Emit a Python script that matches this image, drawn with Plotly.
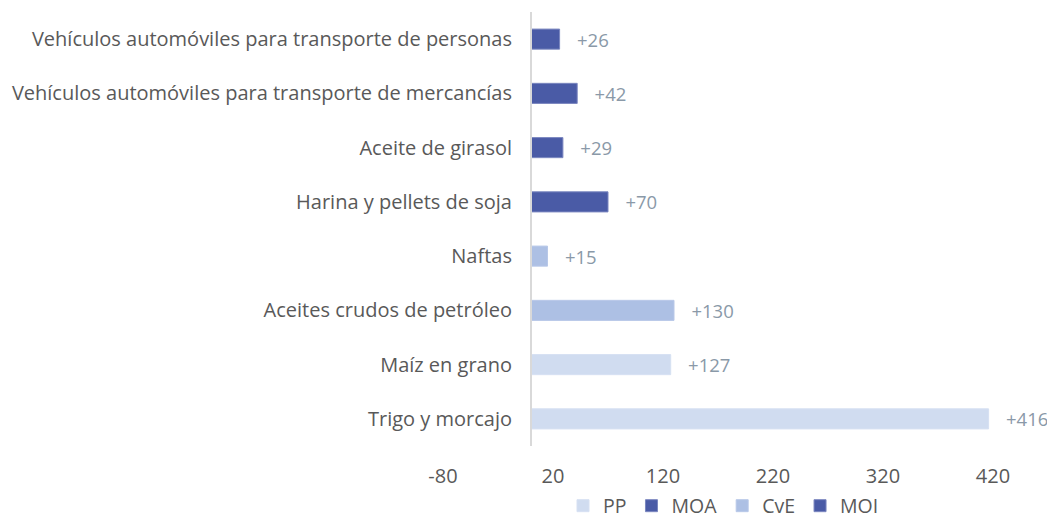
import plotly.graph_objects as go

categories = [
    "Vehículos automóviles para transporte de personas",
    "Vehículos automóviles para transporte de mercancías",
    "Aceite de girasol",
    "Harina y pellets de soja",
    "Naftas",
    "Aceites crudos de petróleo",
    "Maíz en grano",
    "Trigo y morcajo",
]
values = [26, 42, 29, 70, 15, 130, 127, 416]
groups = ["MOI", "MOI", "MOA", "MOA", "CvE", "CvE", "PP", "PP"]
legend_order = ["PP", "MOA", "CvE", "MOI"]
colors = {"PP": "#d0dcf0", "MOA": "#4a5ba6", "CvE": "#adc0e4", "MOI": "#4a5ba6"}
line_colors = {"PP": "#d6e0f2", "MOA": "#7a86bf", "CvE": "#b8c8e8", "MOI": "#7a86bf"}
tick_vals = [-80, 20, 120, 220, 320, 420]

FONT = "Open Sans"
fig = go.Figure()
for g in legend_order:
    ys = [c for c, gg in zip(categories, groups) if gg == g]
    xs = [v for v, gg in zip(values, groups) if gg == g]
    fig.add_trace(go.Bar(
        name=g, y=ys, x=xs, orientation="h",
        marker=dict(color=colors[g], line=dict(color=line_colors[g], width=1)),
        width=0.37,
        text=["\u00a0\u00a0\u00a0+%d" % v for v in xs],
        textposition="outside",
        constraintext="none",
        textfont=dict(family=FONT, size=18.5, color="#8a99a8"),
        cliponaxis=False,
        hoverinfo="skip",
    ))

# page has an 8px body margin; compensate so the plot area sits at 443..1004 x 12..446
OFF = 8
W, H = 1055 - OFF, 520 - OFF
L, R, T, B = 443 - OFF, 51, 12 - OFF, 74
fig.update_layout(
    width=W, height=H,
    margin=dict(l=L, r=R, t=T, b=B, pad=0, autoexpand=False),
    paper_bgcolor="white", plot_bgcolor="white",
    barmode="overlay",
    font=dict(family=FONT, size=20, color="#595959"),
    showlegend=True,
    legend=dict(orientation="h", x=0.5, xanchor="center", y=-60 / 434, yanchor="middle",
                font=dict(family=FONT, size=19.5, color="#595959"),
                traceorder="normal", itemwidth=30, tracegroupgap=0),
    xaxis=dict(range=[-80, 430], tickvals=tick_vals, ticktext=[str(t) for t in tick_vals],
               showgrid=False, zeroline=False, showline=False, ticks="",
               automargin=False,
               tickfont=dict(family=FONT, size=20, color="#595959"),
               ticklabelstandoff=16),
    yaxis=dict(categoryorder="array", categoryarray=categories[::-1],
               anchor="free", position=80 / 510,
               showline=True, linecolor="#d9d9d9", linewidth=2,
               showgrid=False, zeroline=False, ticks="",
               automargin=False,
               tickfont=dict(family=FONT, size=20, color="#595959"),
               ticklabelstandoff=14),
)
fig.write_html("out.html")
